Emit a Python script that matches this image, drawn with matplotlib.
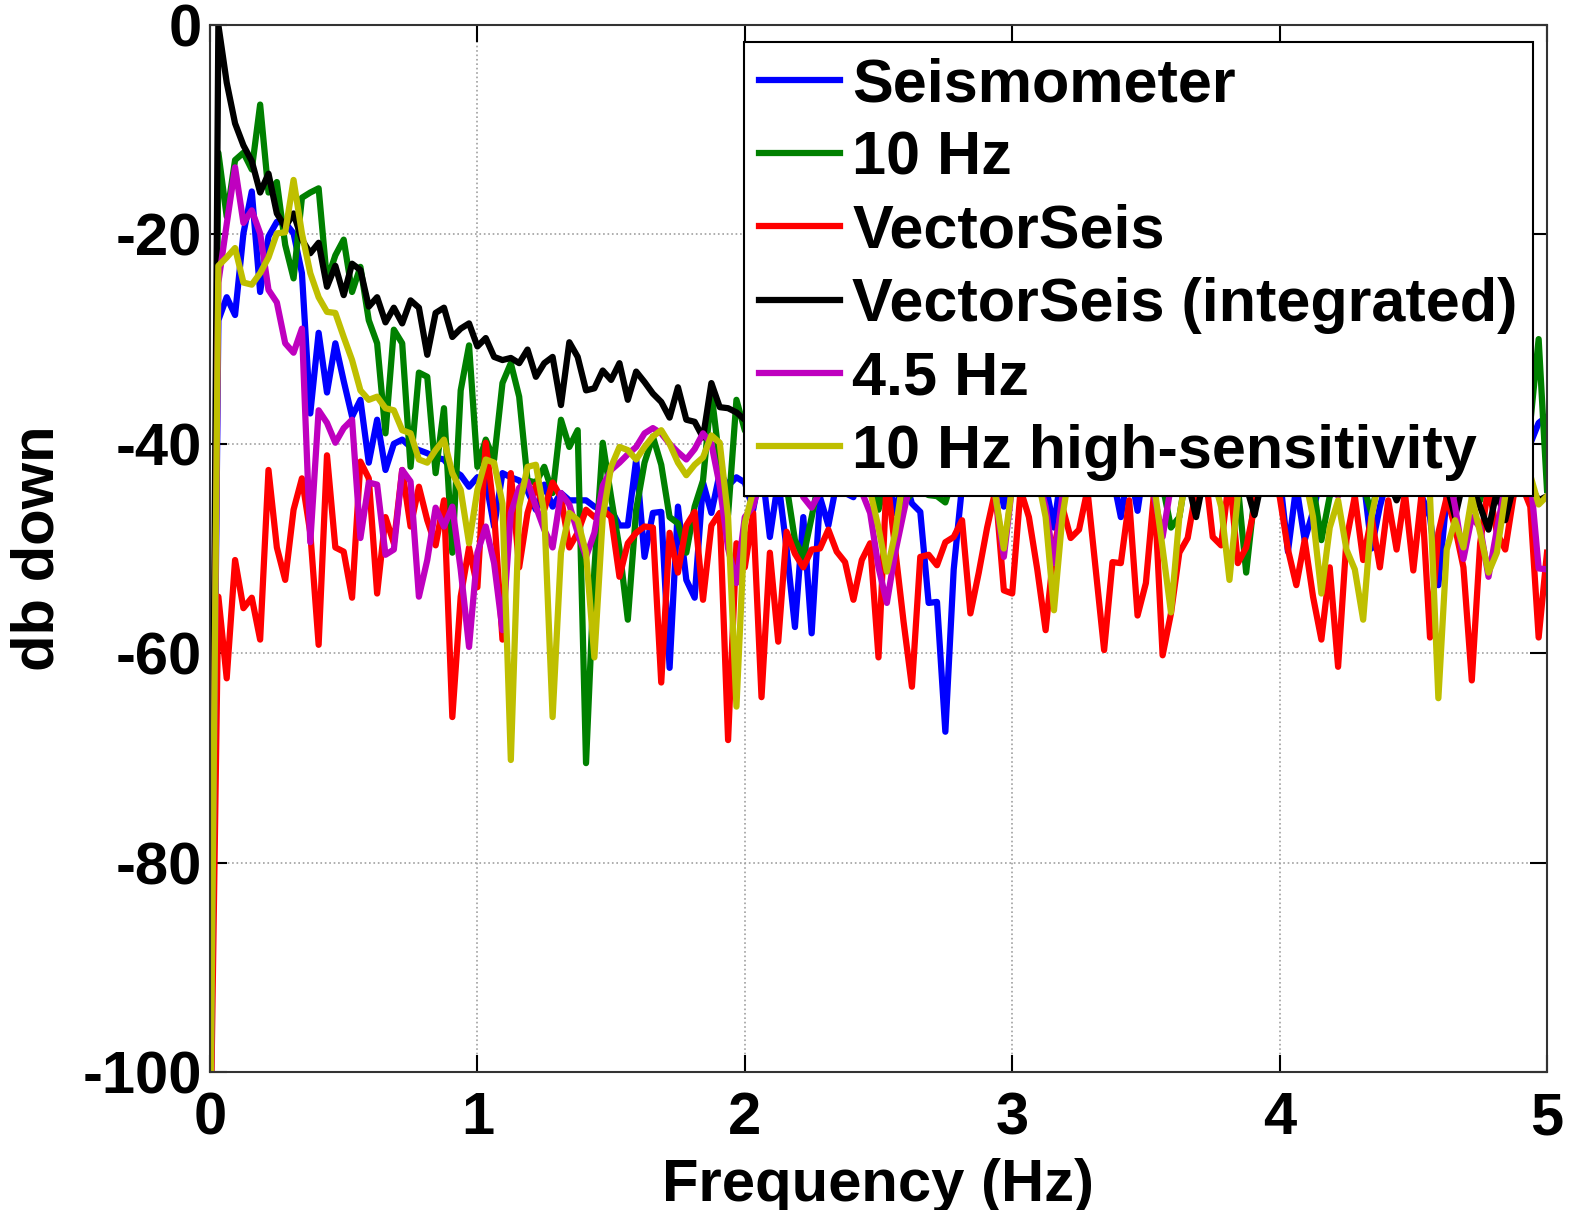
import numpy as np
import matplotlib
matplotlib.use("Agg")
import matplotlib.pyplot as plt

plt.rcParams['font.family'] = ['Liberation Sans', 'DejaVu Sans']
plt.rcParams['font.weight'] = 'bold'
plt.rcParams['axes.unicode_minus'] = False

# spectra sampled every 1/32 Hz, 0 .. 5 Hz (161 bins), dB down from peak
freq = np.arange(161) / 32

seismometer = [
    -110, -28.2, -26.0, -27.7, -19.9, -15.9, -25.5, -20.2, -18.8, -18.9,
    -19.9, -23.7, -37.1, -29.4, -35.1, -30.4, -34.0, -37.4, -35.8, -41.8,
    -37.7, -42.5, -40.0, -39.6, -40.3, -40.6, -40.9, -41.3, -41.5, -42.5,
    -43.0, -44.1, -43.2, -43.5, -47.9, -42.8, -43.2, -43.5, -44.5, -46.3,
    -43.9, -46.0, -44.7, -45.4, -45.4, -45.4, -46.0, -46.3, -46.3, -47.8,
    -47.8, -41.5, -50.8, -46.6, -46.5, -61.4, -46.0, -53.0, -54.7, -43.7,
    -46.6, -42.8, -44.0, -43.2, -43.7, -46.3, -42.0, -48.9, -43.5, -50.0,
    -57.5, -47.0, -58.1, -45.1, -47.8, -43.7, -44.7, -45.1, -42.0, -43.0,
    -41.0, -43.0, -46.6, -43.0, -45.7, -46.5, -55.2, -55.1, -67.5, -52.0,
    -44.0, -42.0, -40.0, -42.0, -41.0, -46.0, -42.0, -40.0, -43.0, -41.0,
    -44.0, -48.0, -42.0, -40.0, -43.0, -41.0, -42.0, -40.0, -43.0, -47.0,
    -42.0, -46.4, -41.0, -42.0, -40.0, -43.0, -41.0, -42.0, -39.0, -41.0,
    -43.0, -40.0, -42.0, -41.0, -43.0, -40.0, -42.0, -41.0, -43.0, -50.3,
    -44.0, -49.2, -46.5, -43.0, -45.0, -42.0, -44.0, -45.0, -43.0, -50.0,
    -46.0, -43.0, -42.0, -44.0, -43.0, -45.0, -47.0, -53.5, -45.0, -44.0,
    -43.0, -45.0, -44.0, -42.0, -43.0, -44.0, -42.0, -41.0, -40.0, -38.0,
    -37.4,
]

geophone_10hz = [
    -110, -12.2, -18.3, -12.9, -12.2, -13.8, -7.6, -16.0, -15.0, -21.0,
    -24.2, -16.5, -16.0, -15.6, -24.4, -22.0, -20.5, -25.5, -23.1, -28.2,
    -30.4, -39.0, -29.1, -30.4, -42.2, -33.2, -33.6, -42.8, -36.6, -50.4,
    -34.9, -30.6, -42.2, -39.6, -41.5, -34.2, -32.3, -35.5, -43.5, -43.7,
    -42.2, -44.7, -37.7, -40.3, -38.7, -70.5, -52.0, -39.9, -45.1, -50.0,
    -56.8, -46.3, -41.8, -39.3, -42.0, -47.0, -47.6, -50.4, -46.0, -43.5,
    -35.1, -41.8, -46.8, -35.8, -38.7, -40.0, -42.0, -38.0, -41.0, -44.0,
    -49.2, -50.8, -47.0, -43.0, -41.0, -42.0, -40.0, -43.0, -41.0, -42.0,
    -46.3, -43.0, -44.0, -45.7, -44.7, -44.5, -44.9, -45.0, -45.6, -43.0,
    -42.0, -41.0, -43.0, -40.0, -42.0, -41.0, -43.0, -42.0, -40.0, -41.0,
    -42.0, -43.0, -41.0, -40.0, -42.0, -41.0, -43.0, -42.0, -40.0, -41.0,
    -42.0, -43.0, -41.0, -42.0, -44.0, -48.0, -47.0, -42.0, -41.0, -40.0,
    -42.0, -41.0, -43.0, -44.0, -52.3, -45.0, -42.0, -41.0, -40.0, -42.0,
    -43.0, -41.0, -44.0, -49.2, -45.0, -42.0, -41.0, -43.0, -44.0, -46.6,
    -43.0, -42.0, -41.0, -43.0, -42.0, -41.0, -44.0, -43.0, -42.0, -41.0,
    -43.0, -44.0, -45.4, -42.0, -41.0, -43.0, -42.0, -40.0, -38.0, -30.0,
    -44.4,
]

vectorseis = [
    -110, -54.6, -62.4, -51.1, -55.7, -54.7, -58.7, -42.5, -49.9, -53.0,
    -46.3, -43.3, -48.5, -59.2, -41.1, -49.9, -50.3, -54.7, -41.7, -43.3,
    -54.3, -47.0, -49.5, -42.5, -47.9, -44.1, -47.3, -49.7, -45.4, -66.1,
    -54.6, -49.9, -53.7, -39.9, -46.6, -58.7, -42.8, -51.8, -46.6, -43.9,
    -46.3, -43.7, -45.1, -49.9, -48.5, -46.3, -47.0, -46.3, -47.0, -52.7,
    -49.5, -48.5, -47.9, -48.0, -62.8, -48.5, -52.3, -47.8, -46.5, -54.9,
    -47.8, -46.6, -68.3, -49.5, -51.8, -46.6, -64.2, -50.4, -58.9, -48.4,
    -50.5, -51.8, -50.1, -50.0, -48.2, -50.3, -51.3, -54.9, -51.1, -49.5,
    -60.4, -43.0, -50.1, -57.0, -63.2, -50.8, -50.6, -51.6, -49.4, -48.9,
    -47.3, -56.2, -52.3, -48.0, -44.4, -54.0, -54.3, -44.4, -47.0, -52.0,
    -57.8, -50.0, -46.0, -49.0, -48.2, -44.4, -52.0, -59.7, -51.3, -51.4,
    -45.4, -56.4, -53.3, -44.4, -60.2, -56.2, -50.4, -49.0, -44.4, -42.0,
    -48.9, -49.7, -43.0, -51.4, -49.9, -46.0, -42.0, -44.0, -45.0, -50.1,
    -53.5, -49.2, -54.6, -58.7, -51.8, -61.3, -49.2, -45.0, -51.1, -47.0,
    -51.8, -45.4, -50.1, -44.7, -52.1, -44.7, -58.5, -48.5, -45.1, -48.0,
    -51.8, -62.6, -49.5, -44.0, -48.5, -50.1, -45.0, -44.0, -46.0, -58.5,
    -50.4,
]

vectorseis_int = [
    -110, 0.0, -5.5, -9.4, -11.5, -13.0, -16.0, -14.2, -18.0, -19.3,
    -18.0, -20.5, -21.8, -20.8, -25.0, -23.0, -25.8, -22.8, -23.4, -26.9,
    -26.0, -28.4, -27.0, -28.5, -26.3, -27.0, -31.5, -27.5, -27.0, -29.8,
    -29.0, -28.5, -30.7, -29.9, -31.7, -32.0, -31.8, -32.3, -31.0, -33.6,
    -32.3, -31.7, -36.3, -30.3, -31.7, -34.9, -34.7, -33.0, -33.9, -32.3,
    -35.8, -33.1, -34.1, -35.2, -36.0, -37.5, -34.6, -37.7, -37.9, -39.4,
    -34.2, -36.5, -36.6, -37.0, -37.7, -38.5, -37.0, -39.0, -38.0, -39.5,
    -38.5, -40.0, -39.0, -40.5, -39.5, -41.0, -40.0, -40.5, -41.5, -40.5,
    -41.0, -42.0, -41.0, -42.5, -41.5, -42.0, -43.0, -41.5, -42.5, -43.0,
    -42.0, -43.5, -42.5, -43.0, -42.0, -43.5, -44.0, -44.5, -43.0, -42.5,
    -43.5, -42.5, -43.0, -44.0, -42.5, -43.0, -42.0, -43.5, -43.0, -42.5,
    -43.5, -42.0, -43.0, -42.5, -43.5, -43.0, -42.5, -43.5, -47.0, -43.0,
    -42.5, -43.5, -42.0, -43.0, -44.0, -46.8, -43.0, -42.5, -43.5, -43.0,
    -42.5, -43.5, -44.0, -43.0, -42.5, -43.5, -44.0, -43.0, -43.5, -44.0,
    -43.0, -43.5, -45.4, -43.5, -43.0, -44.0, -43.5, -44.0, -44.0, -47.0,
    -43.5, -44.0, -46.0, -48.2, -44.5, -47.3, -44.0, -43.5, -44.0, -45.4,
    -45.0,
]

geophone_4_5hz = [
    -110, -24.6, -19.0, -13.6, -18.9, -17.7, -19.9, -25.3, -26.5, -30.4,
    -31.3, -29.0, -49.4, -36.8, -38.0, -39.9, -38.5, -37.7, -49.0, -43.7,
    -43.9, -50.6, -50.1, -42.5, -43.6, -54.6, -51.1, -46.1, -47.9, -46.0,
    -52.0, -59.4, -50.4, -47.9, -51.4, -57.8, -46.6, -44.2, -43.6, -46.0,
    -48.2, -49.9, -44.7, -45.8, -48.5, -50.8, -48.5, -44.0, -42.5, -41.8,
    -41.0, -40.3, -39.0, -38.5, -39.0, -40.0, -40.8, -41.5, -40.5, -39.0,
    -40.0, -44.0, -50.0, -53.3, -47.0, -46.0, -43.0, -42.0, -41.0, -43.0,
    -42.0, -45.1, -46.1, -44.6, -44.5, -44.4, -44.4, -44.6, -44.6, -46.6,
    -51.8, -55.2, -50.4, -46.6, -43.0, -42.0, -41.0, -42.5, -41.5, -42.0,
    -41.0, -42.0, -43.0, -41.5, -45.0, -50.8, -44.0, -42.0, -41.0, -43.0,
    -46.0, -51.4, -45.0, -42.0, -41.0, -42.5, -41.5, -42.0, -43.0, -41.0,
    -42.0, -41.5, -43.0, -45.0, -48.9, -44.0, -42.0, -41.0, -42.5, -41.5,
    -42.0, -43.0, -41.0, -42.0, -44.0, -42.0, -41.0, -42.5, -41.5, -43.0,
    -42.0, -41.0, -43.0, -44.0, -42.0, -45.0, -43.0, -41.5, -42.0, -43.0,
    -42.0, -41.5, -43.0, -42.0, -41.0, -42.5, -44.0, -43.0, -42.0, -46.0,
    -51.0, -47.0, -48.0, -52.7, -48.2, -44.0, -42.0, -41.0, -43.0, -51.9,
    -52.0,
]

geophone_10hz_hs = [
    -110, -23.0, -22.2, -21.3, -24.6, -24.8, -23.7, -22.2, -19.9, -19.8,
    -14.8, -19.9, -23.7, -26.0, -27.4, -27.5, -29.8, -32.0, -34.9, -35.8,
    -35.5, -36.6, -36.8, -38.7, -39.0, -41.5, -41.8, -40.6, -39.6, -42.8,
    -44.4, -49.5, -44.4, -41.5, -41.8, -45.7, -70.2, -46.0, -42.2, -42.0,
    -46.6, -66.1, -50.4, -46.6, -47.3, -50.4, -60.4, -47.0, -42.2, -40.3,
    -40.6, -41.5, -40.3, -39.3, -38.7, -40.0, -41.8, -43.0, -42.0, -41.3,
    -39.2, -39.9, -47.0, -65.1, -47.6, -44.5, -42.0, -41.0, -40.5, -42.0,
    -41.0, -40.0, -41.5, -42.0, -40.5, -41.0, -42.0, -43.0, -42.0, -44.5,
    -48.0, -52.2, -48.5, -43.0, -42.0, -41.0, -42.5, -41.5, -43.0, -42.0,
    -41.0, -42.5, -41.5, -43.0, -45.0, -50.0, -44.0, -42.0, -41.5, -43.0,
    -47.0, -55.9, -47.0, -42.0, -41.0, -42.0, -43.0, -41.5, -42.0, -43.0,
    -42.0, -41.0, -42.5, -44.0, -50.0, -56.1, -47.0, -42.0, -41.0, -42.5,
    -43.0, -46.0, -53.0, -45.0, -42.0, -41.0, -42.5, -41.5, -43.0, -42.0,
    -41.5, -43.0, -47.0, -54.3, -48.0, -45.4, -50.1, -52.0, -56.8, -47.0,
    -43.0, -42.0, -41.5, -43.0, -42.0, -41.0, -45.0, -64.3, -50.1, -47.3,
    -49.9, -45.1, -48.5, -52.3, -50.4, -45.0, -43.0, -42.0, -43.0, -45.8,
    -45.0,
]

series = [
    (seismometer, (0, 0, 1), 'Seismometer'),
    (geophone_10hz, (0, 0.5, 0), '10 Hz'),
    (vectorseis, (1, 0, 0), 'VectorSeis'),
    (vectorseis_int, (0, 0, 0), 'VectorSeis (integrated)'),
    (geophone_4_5hz, (0.75, 0, 0.75), '4.5 Hz'),
    (geophone_10hz_hs, (0.75, 0.75, 0), '10 Hz high-sensitivity'),
]

fig = plt.figure(figsize=(15.69, 12.10), dpi=100)
ax = fig.add_axes([210 / 1569, 1 - 1072 / 1210, 1337 / 1569, 1047 / 1210])

for vals, color, label in series:
    ax.plot(freq, vals, color=color, lw=4.5, label=label)

ax.set_xlim(0, 5)
ax.set_ylim(-100, 0)
ax.set_xticks(range(0, 6))
ax.set_yticks(range(-100, 1, 20))
ax.grid(True, linestyle=':', color='#a0a0a0', lw=1.2)
ax.tick_params(direction='in', length=12, width=1.5, top=True, right=True,
               labelsize=43)
ax.tick_params(axis='x', pad=14)
ax.tick_params(axis='y', pad=6)
for sp in ax.spines.values():
    sp.set_linewidth(1.5)
    sp.set_color('#333333')

ax.set_xlabel('Frequency (Hz)', fontsize=43, fontweight='bold', labelpad=8)
ax.set_ylabel('db down', fontsize=43, fontweight='bold')
ax.yaxis.set_label_coords(-0.108, 0.5)

# legend box: top-right corner just inside the axes, like the reference
leg = ax.legend(loc='upper right', bbox_to_anchor=(0.9895, 0.984),
                fontsize=44, frameon=True, fancybox=False,
                framealpha=1, edgecolor='black', borderaxespad=0,
                handlelength=1.32, handletextpad=0.2, labelspacing=0.267,
                borderpad=0.25)
leg.get_frame().set_linewidth(1.5)

fig.savefig('out.png', dpi=100)
